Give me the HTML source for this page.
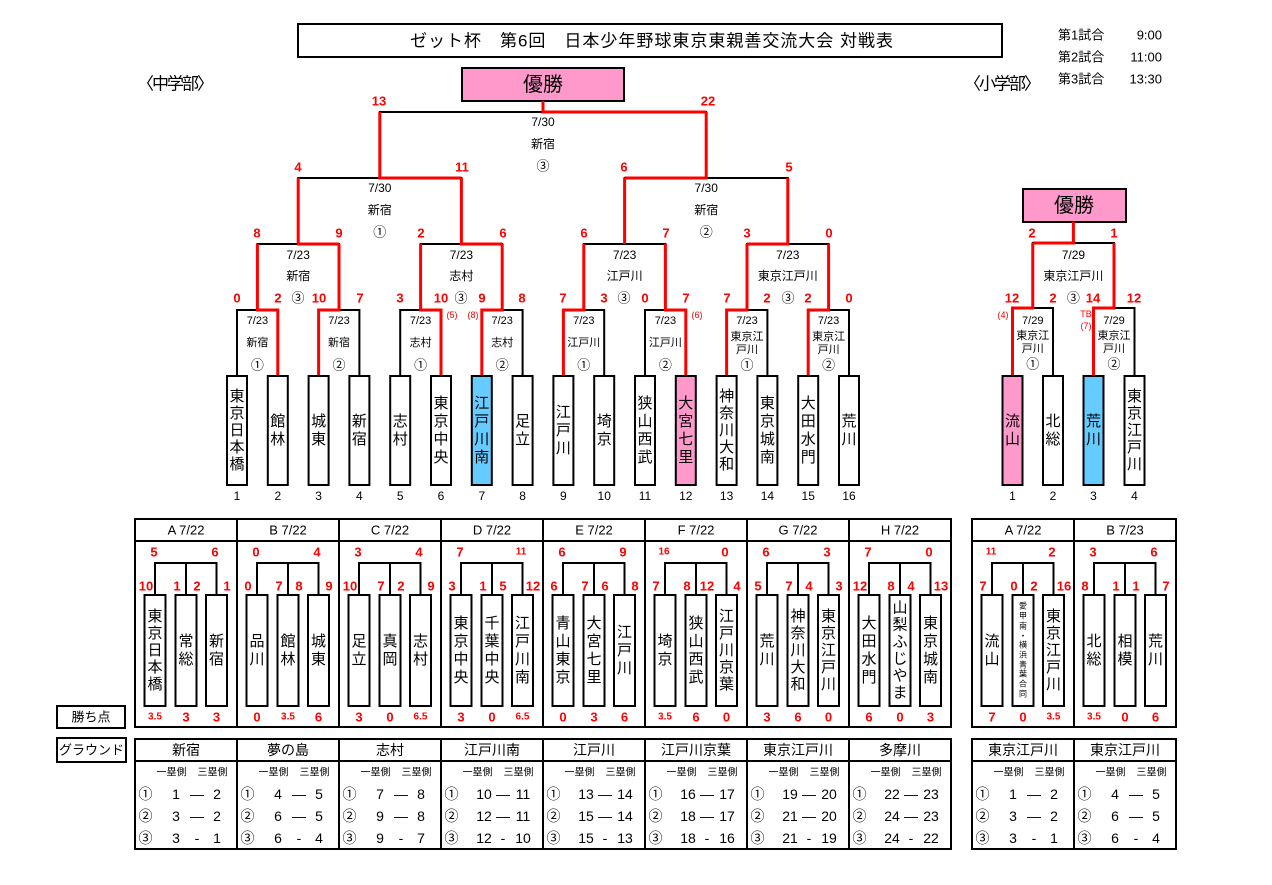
<!DOCTYPE html>
<html><head><meta charset="utf-8">
<style>
html,body{margin:0;padding:0;background:#fff;}
svg{display:block}
text{font-family:"Liberation Sans","Noto Sans CJK JP",sans-serif;dominant-baseline:central;text-anchor:middle;fill:#000}
.r{fill:#f00;font-weight:bold;font-size:13px}
.rm{fill:#f00;font-weight:bold;font-size:10px}
.rs{fill:#f00;font-size:9px}
.d{font-size:11px}
.d2{font-size:12px}
.c{font-size:13px}
.n{font-size:15px}
.num{font-size:12px}
.h{font-size:13px}
.g{font-size:14px}
.s{font-size:10px}
.bl{stroke:#000;stroke-width:2;fill:none}
.rl{stroke:#f00;stroke-width:3;fill:none}
.bx{stroke:#000;stroke-width:2;fill:#fff}
</style></head><body>
<svg width="1272" height="885" viewBox="0 0 1272 885">
<!-- Header -->
<rect x="298" y="24" width="704" height="33" class="bx"/>
<text x="410" y="41" style="font-size:17px;text-anchor:start" textLength="483">ゼット杯　第6回　日本少年野球東京東親善交流大会 対戦表</text>
<text x="1058" y="35" class="c" style="text-anchor:start">第1試合</text><text x="1162" y="35" class="c" style="text-anchor:end">9:00</text>
<text x="1058" y="57" class="c" style="text-anchor:start">第2試合</text><text x="1162" y="57" class="c" style="text-anchor:end">11:00</text>
<text x="1058" y="79" class="c" style="text-anchor:start">第3試合</text><text x="1162" y="79" class="c" style="text-anchor:end">13:30</text>
<text x="137" y="84" style="font-size:17px;text-anchor:start" textLength="77">〈中学部〉</text>
<text x="964" y="84" style="font-size:17px;text-anchor:start" textLength="77">〈小学部〉</text>

<rect x="462" y="68" width="162" height="33" stroke="#000" stroke-width="2" fill="#ff99cc"/>
<text x="543" y="85" style="font-size:20px">優勝</text>
<rect x="1023" y="189" width="103" height="33" stroke="#000" stroke-width="2" fill="#ff99cc"/>
<text x="1074" y="206" style="font-size:20px">優勝</text>

<!-- Main bracket black lines -->
<path class="bl" d="M237,376V310H277.8V376 M318.6,376V310H359.4V376 M400.2,376V310H441V376 M481.8,376V310H522.6V376 M563.4,376V310H604.2V376 M645,376V310H685.8V376 M726.6,376V310H767.4V376 M808.2,376V310H849V376
M257.4,310V244H339V310 M420.6,310V244H502.2V310 M583.8,310V244H665.4V310 M747,310V244H828.6V310
M298.2,244V178H461.4V244 M624.6,244V178H787.8V244
M379.8,178V112H706.2V178"/>
<!-- Main bracket red lines -->
<path class="rl" d="M277.8,376V310H257.4V244 M318.6,376V310H339V244 M441,376V310H420.6V244 M481.8,376V310H502.2V244 M563.4,376V310H583.8V244 M685.8,376V310H665.4V244 M726.6,376V310H747V244 M808.2,376V310H828.6V244
M339,244H298.2V178 M502.2,244H461.4V178 M624.6,244V178 M747,244H787.8V178
M461.4,178H379.8V112 M624.6,178H706.2V112
M706.2,112H543V101"/>

<!-- Right bracket lines -->
<path class="bl" d="M1012.5,376V308H1053V376 M1093.5,376V308H1134.5V376 M1032.75,308V243H1114V308 M1073.4,243V222"/>
<path class="rl" d="M1012.5,376V308H1032.75V243 M1093.5,376V308H1114V243 M1032.75,243H1073.4V222"/>

<!-- Main team boxes -->
<rect x="227" y="376" width="20" height="109" class="bx"/>
<rect x="267.8" y="376" width="20" height="109" class="bx"/>
<rect x="308.6" y="376" width="20" height="109" class="bx"/>
<rect x="349.4" y="376" width="20" height="109" class="bx"/>
<rect x="390.2" y="376" width="20" height="109" class="bx"/>
<rect x="431" y="376" width="20" height="109" class="bx"/>
<rect x="471.8" y="376" width="20" height="109" stroke="#000" stroke-width="2" fill="#66ccff"/>
<rect x="512.6" y="376" width="20" height="109" class="bx"/>
<rect x="553.4" y="376" width="20" height="109" class="bx"/>
<rect x="594.2" y="376" width="20" height="109" class="bx"/>
<rect x="635" y="376" width="20" height="109" class="bx"/>
<rect x="675.8" y="376" width="20" height="109" stroke="#000" stroke-width="2" fill="#ff99cc"/>
<rect x="716.6" y="376" width="20" height="109" class="bx"/>
<rect x="757.4" y="376" width="20" height="109" class="bx"/>
<rect x="798.2" y="376" width="20" height="109" class="bx"/>
<rect x="839" y="376" width="20" height="109" class="bx"/>

<text class="n" x="237 237 237 237 237" y="396.5 413.5 430.5 447.5 464.5">東京日本橋</text>
<text class="n" x="277.8 277.8" y="421.5 439.5">館林</text>
<text class="n" x="318.6 318.6" y="421.5 439.5">城東</text>
<text class="n" x="359.4 359.4" y="421.5 439.5">新宿</text>
<text class="n" x="400.2 400.2" y="421.5 439.5">志村</text>
<text class="n" x="441 441 441 441" y="403.5 421.5 439.5 457.5">東京中央</text>
<text class="n" x="481.8 481.8 481.8 481.8" y="403.5 421.5 439.5 457.5">江戸川南</text>
<text class="n" x="522.6 522.6" y="421.5 439.5">足立</text>
<text class="n" x="563.4 563.4 563.4" y="412.5 430.5 448.5">江戸川</text>
<text class="n" x="604.2 604.2" y="421.5 439.5">埼京</text>
<text class="n" x="645 645 645 645" y="403.5 421.5 439.5 457.5">狭山西武</text>
<text class="n" x="685.8 685.8 685.8 685.8" y="403.5 421.5 439.5 457.5">大宮七里</text>
<text class="n" x="726.6 726.6 726.6 726.6 726.6" y="396.5 413.5 430.5 447.5 464.5">神奈川大和</text>
<text class="n" x="767.4 767.4 767.4 767.4" y="403.5 421.5 439.5 457.5">東京城南</text>
<text class="n" x="808.2 808.2 808.2 808.2" y="403.5 421.5 439.5 457.5">大田水門</text>
<text class="n" x="849 849" y="421.5 439.5">荒川</text>

<text class="num" x="237" y="496">1</text><text class="num" x="277.8" y="496">2</text><text class="num" x="318.6" y="496">3</text><text class="num" x="359.4" y="496">4</text>
<text class="num" x="400.2" y="496">5</text><text class="num" x="441" y="496">6</text><text class="num" x="481.8" y="496">7</text><text class="num" x="522.6" y="496">8</text>
<text class="num" x="563.4" y="496">9</text><text class="num" x="604.2" y="496">10</text><text class="num" x="645" y="496">11</text><text class="num" x="685.8" y="496">12</text>
<text class="num" x="726.6" y="496">13</text><text class="num" x="767.4" y="496">14</text><text class="num" x="808.2" y="496">15</text><text class="num" x="849" y="496">16</text>

<!-- R1 match labels -->
<text class="d" x="257.4" y="321">7/23</text><text class="d" x="257.4" y="343">新宿</text><text class="c" x="257.4" y="365">①</text>
<text class="d" x="339" y="321">7/23</text><text class="d" x="339" y="343">新宿</text><text class="c" x="339" y="365">②</text>
<text class="d" x="420.6" y="321">7/23</text><text class="d" x="420.6" y="343">志村</text><text class="c" x="420.6" y="365">①</text>
<text class="d" x="502.2" y="321">7/23</text><text class="d" x="502.2" y="343">志村</text><text class="c" x="502.2" y="365">②</text>
<text class="d" x="583.8" y="321">7/23</text><text class="d" x="583.8" y="343">江戸川</text><text class="c" x="583.8" y="365">①</text>
<text class="d" x="665.4" y="321">7/23</text><text class="d" x="665.4" y="343">江戸川</text><text class="c" x="665.4" y="365">②</text>
<text class="d" x="747" y="321">7/23</text><text class="d" x="747" y="337">東京江</text><text class="d" x="747" y="350">戸川</text><text class="c" x="747" y="365">①</text>
<text class="d" x="828.6" y="321">7/23</text><text class="d" x="828.6" y="337">東京江</text><text class="d" x="828.6" y="350">戸川</text><text class="c" x="828.6" y="365">②</text>

<!-- QF labels -->
<text class="d2" x="298.2" y="255">7/23</text><text class="d2" x="298.2" y="276">新宿</text>
<text class="d2" x="461.4" y="255">7/23</text><text class="d2" x="461.4" y="276">志村</text>
<text class="d2" x="624.6" y="255">7/23</text><text class="d2" x="624.6" y="276">江戸川</text>
<text class="d2" x="787.8" y="255">7/23</text><text class="d2" x="787.8" y="276">東京江戸川</text>
<!-- SF labels -->
<text class="d2" x="379.8" y="188">7/30</text><text class="d2" x="379.8" y="210">新宿</text><text class="c" x="379.8" y="232">①</text>
<text class="d2" x="706.2" y="188">7/30</text><text class="d2" x="706.2" y="210">新宿</text><text class="c" x="706.2" y="232">②</text>
<!-- Final labels -->
<text class="d2" x="543" y="122">7/30</text><text class="d2" x="543" y="144">新宿</text><text class="c" x="543" y="166">③</text>

<!-- Scores -->
<text class="r" x="379" y="101">13</text><text class="r" x="708" y="101">22</text>
<text class="r" x="298" y="167">4</text><text class="r" x="462" y="167">11</text><text class="r" x="624" y="167">6</text><text class="r" x="789" y="167">5</text>
<text class="r" x="257" y="233">8</text><text class="r" x="339" y="233">9</text><text class="r" x="421" y="233">2</text><text class="r" x="503" y="233">6</text>
<text class="r" x="584" y="233">6</text><text class="r" x="666" y="233">7</text><text class="r" x="747" y="233">3</text><text class="r" x="829" y="233">0</text>

<text class="r" x="237" y="298">0</text><text class="r" x="278" y="298">2</text><text class="c" x="298" y="298">③</text><text class="r" x="319" y="298">10</text><text class="r" x="360" y="298">7</text>
<text class="r" x="400" y="298">3</text><text class="r" x="441" y="298">10</text><text class="c" x="461" y="298">③</text><text class="r" x="482" y="298">9</text><text class="r" x="522" y="298">8</text>
<text class="r" x="563" y="298">7</text><text class="r" x="604" y="298">3</text><text class="c" x="624" y="298">③</text><text class="r" x="645" y="298">0</text><text class="r" x="686" y="298">7</text>
<text class="r" x="727" y="298">7</text><text class="r" x="767" y="298">2</text><text class="c" x="788" y="298">③</text><text class="r" x="808" y="298">2</text><text class="r" x="849" y="298">0</text>
<text class="rs" x="452" y="315">(5)</text><text class="rs" x="473" y="315">(8)</text><text class="rs" x="697" y="315">(6)</text>

<!-- Right bracket boxes -->
<rect x="1002.5" y="376" width="20" height="109" stroke="#000" stroke-width="2" fill="#ff99cc"/>
<rect x="1043" y="376" width="20" height="109" class="bx"/>
<rect x="1083.5" y="376" width="20" height="109" stroke="#000" stroke-width="2" fill="#66ccff"/>
<rect x="1124.5" y="376" width="20" height="109" class="bx"/>
<text class="n" x="1012.5 1012.5" y="421.5 439.5">流山</text>
<text class="n" x="1053 1053" y="421.5 439.5">北総</text>
<text class="n" x="1093.5 1093.5" y="421.5 439.5">荒川</text>
<text class="n" x="1134.5 1134.5 1134.5 1134.5 1134.5" y="396.5 413.5 430.5 447.5 464.5">東京江戸川</text>
<text class="num" x="1012.5" y="496">1</text><text class="num" x="1053" y="496">2</text><text class="num" x="1093.5" y="496">3</text><text class="num" x="1134.5" y="496">4</text>

<text class="d" x="1032.75" y="321">7/29</text><text class="d" x="1032.75" y="336">東京江</text><text class="d" x="1032.75" y="349">戸川</text><text class="c" x="1032.75" y="364">①</text>
<text class="d" x="1114" y="321">7/29</text><text class="d" x="1114" y="336">東京江</text><text class="d" x="1114" y="349">戸川</text><text class="c" x="1114" y="364">②</text>
<text class="d2" x="1073.4" y="255">7/29</text><text class="d2" x="1073.4" y="276">東京江戸川</text><text class="c" x="1073.4" y="298">③</text>
<text class="r" x="1032" y="233">2</text><text class="r" x="1114" y="233">1</text>
<text class="r" x="1012" y="298">12</text><text class="r" x="1053" y="298">2</text><text class="r" x="1093" y="298">14</text><text class="r" x="1134" y="298">12</text>
<text class="rs" x="1003" y="315">(4)</text><text class="rs" x="1086" y="314">TB</text><text class="rs" x="1086" y="326">(7)</text>

<!-- Group tables -->
<rect x="135" y="519" width="816" height="208" fill="none" stroke="#000" stroke-width="2"/>
<path class="bl" d="M135,541H951 M237,519V727 M339,519V727 M441,519V727 M543,519V727 M645,519V727 M747,519V727 M849,519V727"/>
<rect x="972" y="519" width="204" height="208" fill="none" stroke="#000" stroke-width="2"/>
<path class="bl" d="M972,541H1176 M1074,519V727"/>
<rect x="57" y="706" width="68" height="22" class="bx"/>
<text class="h" x="91" y="717">勝ち点</text>

<text class="h" x="186" y="530">A 7/22</text><text class="h" x="288" y="530">B 7/22</text><text class="h" x="390" y="530">C 7/22</text><text class="h" x="492" y="530">D 7/22</text>
<text class="h" x="594" y="530">E 7/22</text><text class="h" x="696" y="530">F 7/22</text><text class="h" x="798" y="530">G 7/22</text><text class="h" x="900" y="530">H 7/22</text>
<text class="h" x="1023" y="530">A 7/22</text><text class="h" x="1125" y="530">B 7/23</text>

<path class="bl" d="M155,595V563H216.5V595 M186,563V595
M257,595V563H318.5V595 M288,563V595
M359,595V563H420.5V595 M390,563V595
M461,595V563H522.5V595 M492,563V595
M563,595V563H624.5V595 M594,563V595
M665,595V563H726.5V595 M696,563V595
M767,595V563H828.5V595 M798,563V595
M869,595V563H930.5V595 M900,563V595
M992,595V563H1053.5V595 M1023,563V595
M1094,595V563H1155.5V595 M1125,563V595"/>

<g class="gb">
<rect x="144.5" y="595" width="21" height="111" class="bx"/><rect x="175.5" y="595" width="21" height="111" class="bx"/><rect x="206" y="595" width="21" height="111" class="bx"/>
<rect x="246.5" y="595" width="21" height="111" class="bx"/><rect x="277.5" y="595" width="21" height="111" class="bx"/><rect x="308" y="595" width="21" height="111" class="bx"/>
<rect x="348.5" y="595" width="21" height="111" class="bx"/><rect x="379.5" y="595" width="21" height="111" class="bx"/><rect x="410" y="595" width="21" height="111" class="bx"/>
<rect x="450.5" y="595" width="21" height="111" class="bx"/><rect x="481.5" y="595" width="21" height="111" class="bx"/><rect x="512" y="595" width="21" height="111" class="bx"/>
<rect x="552.5" y="595" width="21" height="111" class="bx"/><rect x="583.5" y="595" width="21" height="111" class="bx"/><rect x="614" y="595" width="21" height="111" class="bx"/>
<rect x="654.5" y="595" width="21" height="111" class="bx"/><rect x="685.5" y="595" width="21" height="111" class="bx"/><rect x="716" y="595" width="21" height="111" class="bx"/>
<rect x="756.5" y="595" width="21" height="111" class="bx"/><rect x="787.5" y="595" width="21" height="111" class="bx"/><rect x="818" y="595" width="21" height="111" class="bx"/>
<rect x="858.5" y="595" width="21" height="111" class="bx"/><rect x="889.5" y="595" width="21" height="111" class="bx"/><rect x="920" y="595" width="21" height="111" class="bx"/>
<rect x="981.5" y="595" width="21" height="111" class="bx"/><rect x="1012.5" y="595" width="21" height="111" class="bx"/><rect x="1043" y="595" width="21" height="111" class="bx"/>
<rect x="1083.5" y="595" width="21" height="111" class="bx"/><rect x="1114.5" y="595" width="21" height="111" class="bx"/><rect x="1145" y="595" width="21" height="111" class="bx"/>
</g>

<!-- group names -->
<text class="n" x="155 155 155 155 155" y="616.5 633.5 650.5 667.5 684.5">東京日本橋</text>
<text class="n" x="186 186" y="641.5 659.5">常総</text>
<text class="n" x="216.5 216.5" y="641.5 659.5">新宿</text>
<text class="n" x="257 257" y="641.5 659.5">品川</text>
<text class="n" x="288 288" y="641.5 659.5">館林</text>
<text class="n" x="318.5 318.5" y="641.5 659.5">城東</text>
<text class="n" x="359 359" y="641.5 659.5">足立</text>
<text class="n" x="390 390" y="641.5 659.5">真岡</text>
<text class="n" x="420.5 420.5" y="641.5 659.5">志村</text>
<text class="n" x="461 461 461 461" y="623.5 641.5 659.5 677.5">東京中央</text>
<text class="n" x="492 492 492 492" y="623.5 641.5 659.5 677.5">千葉中央</text>
<text class="n" x="522.5 522.5 522.5 522.5" y="623.5 641.5 659.5 677.5">江戸川南</text>
<text class="n" x="563 563 563 563" y="623.5 641.5 659.5 677.5">青山東京</text>
<text class="n" x="594 594 594 594" y="623.5 641.5 659.5 677.5">大宮七里</text>
<text class="n" x="624.5 624.5 624.5" y="632.5 650.5 668.5">江戸川</text>
<text class="n" x="665 665" y="641.5 659.5">埼京</text>
<text class="n" x="696 696 696 696" y="623.5 641.5 659.5 677.5">狭山西武</text>
<text class="n" x="726.5 726.5 726.5 726.5 726.5" y="616.5 633.5 650.5 667.5 684.5">江戸川京葉</text>
<text class="n" x="767 767" y="641.5 659.5">荒川</text>
<text class="n" x="798 798 798 798 798" y="616.5 633.5 650.5 667.5 684.5">神奈川大和</text>
<text class="n" x="828.5 828.5 828.5 828.5 828.5" y="616.5 633.5 650.5 667.5 684.5">東京江戸川</text>
<text class="n" x="869 869 869 869" y="623.5 641.5 659.5 677.5">大田水門</text>
<text class="n" x="900 900 900 900 900 900" y="608 625 642 659 676 693">山梨ふじやま</text>
<text class="n" x="930.5 930.5 930.5 930.5" y="623.5 641.5 659.5 677.5">東京城南</text>
<text class="n" x="992 992" y="641.5 659.5">流山</text>
<text x="1023 1023 1023 1023 1023 1023 1023 1023 1023 1023" y="606 616 626 636 645 655 665 674 684 694" style="font-size:8px">愛甲南・横浜青葉合同</text>
<text class="n" x="1053.5 1053.5 1053.5 1053.5 1053.5" y="616.5 633.5 650.5 667.5 684.5">東京江戸川</text>
<text class="n" x="1094 1094" y="641.5 659.5">北総</text>
<text class="n" x="1125 1125" y="641.5 659.5">相模</text>
<text class="n" x="1155.5 1155.5" y="641.5 659.5">荒川</text>

<!-- group scores top -->
<text class="r" x="154" y="552">5</text><text class="r" x="215" y="552">6</text>
<text class="r" x="256" y="552">0</text><text class="r" x="317" y="552">4</text>
<text class="r" x="358" y="552">3</text><text class="r" x="419" y="552">4</text>
<text class="r" x="460" y="552">7</text><text class="rm" x="521" y="552">11</text>
<text class="r" x="562" y="552">6</text><text class="r" x="623" y="552">9</text>
<text class="rm" x="664" y="552">16</text><text class="r" x="725" y="552">0</text>
<text class="r" x="766" y="552">6</text><text class="r" x="827" y="552">3</text>
<text class="r" x="868" y="552">7</text><text class="r" x="929" y="552">0</text>
<text class="rm" x="991" y="552">11</text><text class="r" x="1052" y="552">2</text>
<text class="r" x="1093" y="552">3</text><text class="r" x="1154" y="552">6</text>

<!-- group scores row -->
<text class="r" x="146" y="586">10</text><text class="r" x="177" y="586">1</text><text class="r" x="197" y="586">2</text><text class="r" x="227" y="586">1</text>
<text class="r" x="248" y="586">0</text><text class="r" x="279" y="586">7</text><text class="r" x="299" y="586">8</text><text class="r" x="329" y="586">9</text>
<text class="r" x="350" y="586">10</text><text class="r" x="381" y="586">7</text><text class="r" x="401" y="586">2</text><text class="r" x="431" y="586">9</text>
<text class="r" x="452" y="586">3</text><text class="r" x="483" y="586">1</text><text class="r" x="503" y="586">5</text><text class="r" x="533" y="586">12</text>
<text class="r" x="554" y="586">6</text><text class="r" x="585" y="586">7</text><text class="r" x="605" y="586">6</text><text class="r" x="635" y="586">8</text>
<text class="r" x="656" y="586">7</text><text class="r" x="687" y="586">8</text><text class="r" x="707" y="586">12</text><text class="r" x="737" y="586">4</text>
<text class="r" x="758" y="586">5</text><text class="r" x="789" y="586">7</text><text class="r" x="809" y="586">4</text><text class="r" x="839" y="586">3</text>
<text class="r" x="860" y="586">12</text><text class="r" x="891" y="586">8</text><text class="r" x="911" y="586">4</text><text class="r" x="941" y="586">13</text>
<text class="r" x="983" y="586">7</text><text class="r" x="1014" y="586">0</text><text class="r" x="1034" y="586">2</text><text class="r" x="1064" y="586">16</text>
<text class="r" x="1085" y="586">8</text><text class="r" x="1116" y="586">1</text><text class="r" x="1136" y="586">1</text><text class="r" x="1166" y="586">7</text>

<!-- group scores bottom -->
<text class="rm" x="155" y="717">3.5</text><text class="r" x="186" y="717">3</text><text class="r" x="216.5" y="717">3</text>
<text class="r" x="257" y="717">0</text><text class="rm" x="288" y="717">3.5</text><text class="r" x="318.5" y="717">6</text>
<text class="r" x="359" y="717">3</text><text class="r" x="390" y="717">0</text><text class="rm" x="420.5" y="717">6.5</text>
<text class="r" x="461" y="717">3</text><text class="r" x="492" y="717">0</text><text class="rm" x="522.5" y="717">6.5</text>
<text class="r" x="563" y="717">0</text><text class="r" x="594" y="717">3</text><text class="r" x="624.5" y="717">6</text>
<text class="rm" x="665" y="717">3.5</text><text class="r" x="696" y="717">6</text><text class="r" x="726.5" y="717">0</text>
<text class="r" x="767" y="717">3</text><text class="r" x="798" y="717">6</text><text class="r" x="828.5" y="717">0</text>
<text class="r" x="869" y="717">6</text><text class="r" x="900" y="717">0</text><text class="r" x="930.5" y="717">3</text>
<text class="r" x="992" y="717">7</text><text class="r" x="1023" y="717">0</text><text class="rm" x="1053.5" y="717">3.5</text>
<text class="rm" x="1094" y="717">3.5</text><text class="r" x="1125" y="717">0</text><text class="r" x="1155.5" y="717">6</text>

<!-- Ground tables -->
<rect x="57" y="738" width="69" height="24" class="bx"/>
<text class="h" x="91.5" y="750">グラウンド</text>
<rect x="135" y="739" width="816" height="110" fill="none" stroke="#000" stroke-width="2"/>
<path class="bl" d="M135,761H951 M237,739V849 M339,739V849 M441,739V849 M543,739V849 M645,739V849 M747,739V849 M849,739V849"/>
<rect x="972" y="739" width="204" height="110" fill="none" stroke="#000" stroke-width="2"/>
<path class="bl" d="M972,761H1176 M1074,739V849"/>

<text class="g" x="186" y="750">新宿</text><text class="g" x="288" y="750">夢の島</text><text class="g" x="390" y="750">志村</text><text class="g" x="492" y="750">江戸川南</text>
<text class="g" x="594" y="750">江戸川</text><text class="g" x="696" y="750">江戸川京葉</text><text class="g" x="798" y="750">東京江戸川</text><text class="g" x="900" y="750">多摩川</text>
<text class="g" x="1023" y="750">東京江戸川</text><text class="g" x="1125" y="750">東京江戸川</text>

<!-- column: 135 -->
<text class="s" x="171.5" y="773">一塁側</text><text class="s" x="212.5" y="773">三塁側</text>
<text class="g" x="145.5" y="794">①</text><text class="g" x="176" y="794">1</text><text class="g" x="197" y="794">—</text><text class="g" x="217" y="794">2</text>
<text class="g" x="145.5" y="816">②</text><text class="g" x="176" y="816">3</text><text class="g" x="197" y="816">—</text><text class="g" x="217" y="816">2</text>
<text class="g" x="145.5" y="838">③</text><text class="g" x="176" y="838">3</text><text class="g" x="197" y="838">-</text><text class="g" x="217" y="838">1</text>
<!-- column: 237 -->
<text class="s" x="273.5" y="773">一塁側</text><text class="s" x="314.5" y="773">三塁側</text>
<text class="g" x="247.5" y="794">①</text><text class="g" x="278" y="794">4</text><text class="g" x="299" y="794">—</text><text class="g" x="319" y="794">5</text>
<text class="g" x="247.5" y="816">②</text><text class="g" x="278" y="816">6</text><text class="g" x="299" y="816">—</text><text class="g" x="319" y="816">5</text>
<text class="g" x="247.5" y="838">③</text><text class="g" x="278" y="838">6</text><text class="g" x="299" y="838">-</text><text class="g" x="319" y="838">4</text>
<!-- column: 339 -->
<text class="s" x="375.5" y="773">一塁側</text><text class="s" x="416.5" y="773">三塁側</text>
<text class="g" x="349.5" y="794">①</text><text class="g" x="380" y="794">7</text><text class="g" x="401" y="794">—</text><text class="g" x="421" y="794">8</text>
<text class="g" x="349.5" y="816">②</text><text class="g" x="380" y="816">9</text><text class="g" x="401" y="816">—</text><text class="g" x="421" y="816">8</text>
<text class="g" x="349.5" y="838">③</text><text class="g" x="380" y="838">9</text><text class="g" x="401" y="838">-</text><text class="g" x="421" y="838">7</text>
<!-- column: 441 -->
<text class="s" x="477.5" y="773">一塁側</text><text class="s" x="518.5" y="773">三塁側</text>
<text class="g" x="451.5" y="794">①</text><text class="g" x="484" y="794">10</text><text class="g" x="503" y="794">—</text><text class="g" x="523" y="794">11</text>
<text class="g" x="451.5" y="816">②</text><text class="g" x="484" y="816">12</text><text class="g" x="503" y="816">—</text><text class="g" x="523" y="816">11</text>
<text class="g" x="451.5" y="838">③</text><text class="g" x="484" y="838">12</text><text class="g" x="503" y="838">-</text><text class="g" x="523" y="838">10</text>
<!-- column: 543 -->
<text class="s" x="579.5" y="773">一塁側</text><text class="s" x="620.5" y="773">三塁側</text>
<text class="g" x="553.5" y="794">①</text><text class="g" x="586" y="794">13</text><text class="g" x="605" y="794">—</text><text class="g" x="625" y="794">14</text>
<text class="g" x="553.5" y="816">②</text><text class="g" x="586" y="816">15</text><text class="g" x="605" y="816">—</text><text class="g" x="625" y="816">14</text>
<text class="g" x="553.5" y="838">③</text><text class="g" x="586" y="838">15</text><text class="g" x="605" y="838">-</text><text class="g" x="625" y="838">13</text>
<!-- column: 645 -->
<text class="s" x="681.5" y="773">一塁側</text><text class="s" x="722.5" y="773">三塁側</text>
<text class="g" x="655.5" y="794">①</text><text class="g" x="688" y="794">16</text><text class="g" x="707" y="794">—</text><text class="g" x="727" y="794">17</text>
<text class="g" x="655.5" y="816">②</text><text class="g" x="688" y="816">18</text><text class="g" x="707" y="816">—</text><text class="g" x="727" y="816">17</text>
<text class="g" x="655.5" y="838">③</text><text class="g" x="688" y="838">18</text><text class="g" x="707" y="838">-</text><text class="g" x="727" y="838">16</text>
<!-- column: 747 -->
<text class="s" x="783.5" y="773">一塁側</text><text class="s" x="824.5" y="773">三塁側</text>
<text class="g" x="757.5" y="794">①</text><text class="g" x="790" y="794">19</text><text class="g" x="809" y="794">—</text><text class="g" x="829" y="794">20</text>
<text class="g" x="757.5" y="816">②</text><text class="g" x="790" y="816">21</text><text class="g" x="809" y="816">—</text><text class="g" x="829" y="816">20</text>
<text class="g" x="757.5" y="838">③</text><text class="g" x="790" y="838">21</text><text class="g" x="809" y="838">-</text><text class="g" x="829" y="838">19</text>
<!-- column: 849 -->
<text class="s" x="885.5" y="773">一塁側</text><text class="s" x="926.5" y="773">三塁側</text>
<text class="g" x="859.5" y="794">①</text><text class="g" x="892" y="794">22</text><text class="g" x="911" y="794">—</text><text class="g" x="931" y="794">23</text>
<text class="g" x="859.5" y="816">②</text><text class="g" x="892" y="816">24</text><text class="g" x="911" y="816">—</text><text class="g" x="931" y="816">23</text>
<text class="g" x="859.5" y="838">③</text><text class="g" x="892" y="838">24</text><text class="g" x="911" y="838">-</text><text class="g" x="931" y="838">22</text>
<!-- column: 972 -->
<text class="s" x="1008.5" y="773">一塁側</text><text class="s" x="1049.5" y="773">三塁側</text>
<text class="g" x="982.5" y="794">①</text><text class="g" x="1013" y="794">1</text><text class="g" x="1034" y="794">—</text><text class="g" x="1054" y="794">2</text>
<text class="g" x="982.5" y="816">②</text><text class="g" x="1013" y="816">3</text><text class="g" x="1034" y="816">—</text><text class="g" x="1054" y="816">2</text>
<text class="g" x="982.5" y="838">③</text><text class="g" x="1013" y="838">3</text><text class="g" x="1034" y="838">-</text><text class="g" x="1054" y="838">1</text>
<!-- column: 1074 -->
<text class="s" x="1110.5" y="773">一塁側</text><text class="s" x="1151.5" y="773">三塁側</text>
<text class="g" x="1084.5" y="794">①</text><text class="g" x="1115" y="794">4</text><text class="g" x="1136" y="794">—</text><text class="g" x="1156" y="794">5</text>
<text class="g" x="1084.5" y="816">②</text><text class="g" x="1115" y="816">6</text><text class="g" x="1136" y="816">—</text><text class="g" x="1156" y="816">5</text>
<text class="g" x="1084.5" y="838">③</text><text class="g" x="1115" y="838">6</text><text class="g" x="1136" y="838">-</text><text class="g" x="1156" y="838">4</text>
</svg>
</body></html>
